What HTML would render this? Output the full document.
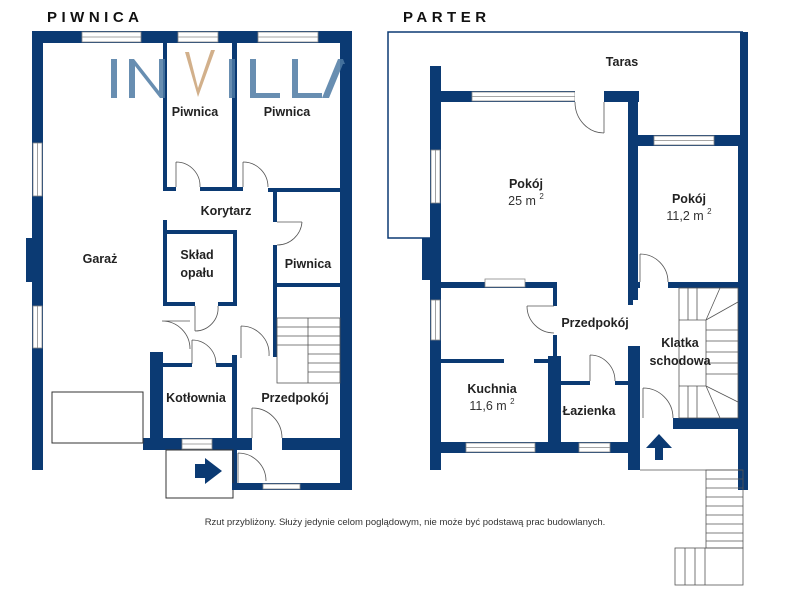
<!DOCTYPE html>
<html><head><meta charset="utf-8"><style>
html,body{margin:0;padding:0;background:#fff;width:800px;height:600px;overflow:hidden}
svg{display:block}
text{font-family:"Liberation Sans",sans-serif}
</style></head><body>
<svg width="800" height="600" viewBox="0 0 800 600" xmlns="http://www.w3.org/2000/svg">
<defs>
<style>.w{fill:#0b3a73}.lb{font-size:12.5px;font-weight:bold;fill:#222;text-anchor:middle}.win{fill:#fff;stroke:#888;stroke-width:0.8}.d{fill:none;stroke:#555;stroke-width:0.8}.wm{font-size:54px;fill:#4e7aa3;opacity:0.85}</style>
</defs>
<text x="47" y="22" style="font-size:15px;font-weight:bold;letter-spacing:4.5px;fill:#111">PIWNICA</text>
<text x="403" y="22" style="font-size:15px;font-weight:bold;letter-spacing:4.5px;fill:#111">PARTER</text>

<!-- ===== PIWNICA ===== -->
<rect class="w" x="32" y="31" width="320" height="12"/>
<rect class="win" x="82" y="32" width="59" height="10"/><line x1="82" y1="37" x2="141" y2="37" stroke="#888" stroke-width="0.8"/>
<rect class="win" x="178" y="32" width="40" height="10"/><line x1="178" y1="37" x2="218" y2="37" stroke="#888" stroke-width="0.8"/>
<rect class="win" x="258" y="32" width="60" height="10"/><line x1="258" y1="37" x2="318" y2="37" stroke="#888" stroke-width="0.8"/>
<rect class="w" x="32" y="31" width="11" height="439"/>
<rect class="win" x="33" y="143" width="9" height="53"/><line x1="37.5" y1="143" x2="37.5" y2="196" stroke="#888" stroke-width="0.8"/>
<rect class="win" x="33" y="306" width="9" height="42"/><line x1="37.5" y1="306" x2="37.5" y2="348" stroke="#888" stroke-width="0.8"/>
<rect class="w" x="26" y="238" width="7" height="44"/>
<rect class="w" x="340" y="31" width="12" height="459"/>
<rect class="w" x="163" y="43" width="4" height="147"/>
<rect class="w" x="232" y="43" width="5" height="147"/>
<rect class="w" x="163" y="187" width="13" height="4"/>
<rect class="w" x="200" y="187" width="43" height="4"/>
<rect class="w" x="268" y="188" width="72" height="4"/>
<path class="d" d="M176 162 v25 M176 162 a24 24 0 0 1 24 25"/>
<path class="d" d="M243 162 v25 M243 162 a25 25 0 0 1 25 25"/>
<rect class="w" x="273" y="188" width="4" height="34"/>
<path class="d" d="M277 222 h25 M302 222 a25 25 0 0 1 -25 23"/>
<rect class="w" x="273" y="245" width="4" height="112"/>
<rect class="w" x="277" y="283" width="63" height="4"/>
<rect class="w" x="163" y="220" width="4" height="85"/>
<rect class="w" x="163" y="230" width="74" height="4"/>
<rect class="w" x="233" y="230" width="4" height="75"/>
<rect class="w" x="163" y="302" width="32" height="4"/>
<rect class="w" x="218" y="302" width="19" height="4"/>
<path class="d" d="M195 306 v25 M195 331 a23 23 0 0 0 23 -25"/>
<path class="d" d="M162 321 h28 M162 321 a28 28 0 0 1 28 28"/>
<path class="d" d="M192 340 v24 M192 340 a24 24 0 0 1 24 24"/>
<path class="d" d="M241 326 v32 M241 326 a28 28 0 0 1 28 30"/>
<rect class="w" x="150" y="352" width="13" height="98"/>
<rect class="w" x="163" y="363" width="29" height="4"/>
<rect class="w" x="216" y="363" width="20" height="4"/>
<rect class="w" x="232" y="355" width="5" height="135"/>
<rect class="w" x="143" y="438" width="209" height="12"/>
<rect class="win" x="182" y="439" width="30" height="10"/><line x1="182" y1="444" x2="212" y2="444" stroke="#888" stroke-width="0.8"/>
<rect fill="#fff" x="252" y="438" width="30" height="12"/>
<path class="d" d="M252 408 v30 M252 408 a30 30 0 0 1 30 30"/>
<g stroke="#555" stroke-width="0.8" fill="none">
<rect x="277" y="318" width="63" height="65"/>
<line x1="308" y1="318" x2="308" y2="383"/>
<line x1="277" y1="327" x2="340" y2="327"/><line x1="277" y1="336" x2="340" y2="336"/><line x1="277" y1="345" x2="340" y2="345"/>
<line x1="308" y1="354" x2="340" y2="354"/><line x1="308" y1="363" x2="340" y2="363"/><line x1="308" y1="372" x2="340" y2="372"/>
</g>
<rect x="52" y="392" width="91" height="51" fill="none" stroke="#333" stroke-width="1"/>
<rect x="166" y="450" width="67" height="48" fill="none" stroke="#333" stroke-width="1"/>
<rect class="w" x="232" y="483" width="120" height="7"/>
<rect class="win" x="263" y="484" width="37" height="5"/>
<path class="d" d="M238 453 v30 M238 453 a28 28 0 0 1 28 28"/>
<path class="w" d="M195 464 h10 v-6 l17 13 l-17 13 v-6 h-10z"/>

<text class="lb" x="195" y="116">Piwnica</text>
<text class="lb" x="287" y="116">Piwnica</text>
<text class="lb" x="226" y="215">Korytarz</text>
<text class="lb" x="100" y="263">Garaż</text>
<text class="lb" x="197" y="259">Skład</text>
<text class="lb" x="197" y="277">opału</text>
<text class="lb" x="308" y="268">Piwnica</text>
<text class="lb" x="196" y="402">Kotłownia</text>
<text class="lb" x="295" y="402">Przedpokój</text>

<!-- watermark -->
<rect x="111" y="59" width="6" height="39" fill="#4e7aa3" opacity="0.85"/>
<path d="M129 98 V59 h5 l25 32 V59 h6 v39 h-5 l-25 -32 V98z" fill="#4e7aa3" opacity="0.85"/>
<path d="M185 52 l13 45 l17 -47 h-4 l-13 38 l-9 -36z" fill="#d2b08b"/>
<rect x="229" y="59" width="6" height="39" fill="#4e7aa3" opacity="0.85"/>
<path d="M250 59 h6 v34 h24 v5 h-30z" fill="#4e7aa3" opacity="0.85"/>
<path d="M292 59 h6 v34 h24 v5 h-30z" fill="#4e7aa3" opacity="0.85"/>
<path d="M322 98 l16 -39 h5 l2 5 l-2 0 l-14 34z" fill="#4e7aa3" opacity="0.85"/>

<!-- ===== PARTER ===== -->
<path d="M743 32 H388 V238 H430" fill="none" stroke="#0b3a73" stroke-width="1.5"/>
<rect class="w" x="740" y="32" width="8" height="458"/>
<rect class="w" x="430" y="66" width="11" height="404"/>
<rect class="win" x="431" y="150" width="9" height="53"/><line x1="435.5" y1="150" x2="435.5" y2="203" stroke="#888" stroke-width="0.8"/>
<rect class="win" x="431" y="300" width="9" height="40"/><line x1="435.5" y1="300" x2="435.5" y2="340" stroke="#888" stroke-width="0.8"/>
<rect class="w" x="422" y="238" width="9" height="42"/>
<rect class="w" x="430" y="91" width="209" height="11"/>
<rect class="win" x="472" y="92" width="103" height="9"/><line x1="472" y1="96.5" x2="575" y2="96.5" stroke="#888" stroke-width="0.8"/>
<rect fill="#fff" x="575" y="91" width="29" height="11"/>
<path class="d" d="M604 102 v31 M575 102 a29 31 0 0 0 29 31"/>
<rect class="w" x="628" y="91" width="10" height="209"/>
<rect class="w" x="628" y="135" width="120" height="11"/>
<rect class="win" x="654" y="136" width="60" height="9"/><line x1="654" y1="140.5" x2="714" y2="140.5" stroke="#888" stroke-width="0.8"/>
<rect class="w" x="738" y="135" width="10" height="355"/>
<rect class="w" x="628" y="282" width="12" height="6"/>
<rect class="w" x="668" y="282" width="70" height="6"/>
<path class="d" d="M640 254 v28 M640 254 a28 28 0 0 1 28 28"/>
<rect class="w" x="628" y="288" width="5" height="17"/>
<rect class="w" x="430" y="282" width="127" height="6"/>
<rect class="win" x="485" y="279" width="40" height="8"/>
<rect class="w" x="553" y="282" width="4" height="24"/>
<path class="d" d="M527 306 h27 M527 306 a27 27 0 0 0 27 27"/>
<rect class="w" x="553" y="335" width="4" height="25"/>
<rect class="w" x="441" y="359" width="63" height="4"/>
<rect class="w" x="534" y="359" width="23" height="4"/>
<rect class="w" x="548" y="356" width="13" height="96"/>
<rect class="w" x="561" y="381" width="29" height="4"/>
<rect class="w" x="615" y="381" width="13" height="4"/>
<path class="d" d="M590 355 v26 M590 355 a25 26 0 0 1 25 26"/>
<rect class="w" x="628" y="346" width="12" height="124"/>
<rect class="w" x="430" y="442" width="210" height="11"/>
<rect class="win" x="466" y="443" width="69" height="9"/><line x1="466" y1="447.5" x2="535" y2="447.5" stroke="#888" stroke-width="0.8"/>
<rect class="win" x="579" y="443" width="31" height="9"/><line x1="579" y1="447.5" x2="610" y2="447.5" stroke="#888" stroke-width="0.8"/>
<rect class="w" x="673" y="418" width="75" height="11"/>
<path class="d" d="M643 388 v30 M643 388 a30 30 0 0 1 30 30"/>
<path class="w" d="M655 460 h8 v-12 h9 l-13 -14 l-13 14 h9z"/>
<g stroke="#555" stroke-width="0.8" fill="none">
<rect x="679" y="288" width="59" height="130"/>
<line x1="706" y1="320" x2="706" y2="386"/>
<line x1="688" y1="288" x2="688" y2="320"/><line x1="697" y1="288" x2="697" y2="320"/><line x1="679" y1="320" x2="706" y2="320"/>
<line x1="706" y1="320" x2="720" y2="288"/><line x1="706" y1="320" x2="738" y2="302"/>
<line x1="706" y1="330" x2="738" y2="330"/><line x1="706" y1="341" x2="738" y2="341"/><line x1="706" y1="352" x2="738" y2="352"/><line x1="706" y1="363" x2="738" y2="363"/><line x1="706" y1="374" x2="738" y2="374"/>
<line x1="679" y1="386" x2="706" y2="386"/><line x1="688" y1="386" x2="688" y2="418"/><line x1="697" y1="386" x2="697" y2="418"/>
<line x1="706" y1="386" x2="738" y2="402"/><line x1="706" y1="386" x2="720" y2="418"/>
<line x1="640" y1="470" x2="743" y2="470"/>
<rect x="706" y="470" width="37" height="78"/>
<line x1="706" y1="479" x2="743" y2="479"/><line x1="706" y1="488" x2="743" y2="488"/><line x1="706" y1="497" x2="743" y2="497"/><line x1="706" y1="506" x2="743" y2="506"/><line x1="706" y1="515" x2="743" y2="515"/><line x1="706" y1="524" x2="743" y2="524"/><line x1="706" y1="533" x2="743" y2="533"/><line x1="706" y1="541" x2="743" y2="541"/>
<rect x="675" y="548" width="68" height="37"/>
<line x1="685" y1="548" x2="685" y2="585"/><line x1="695" y1="548" x2="695" y2="585"/><line x1="705" y1="548" x2="705" y2="585"/>
</g>
<text class="lb" x="622" y="66">Taras</text>
<text class="lb" x="526" y="188">Pokój</text>
<text x="526" y="205" style="font-size:12.5px;fill:#333;text-anchor:middle">25 m <tspan dy="-6" font-size="8">2</tspan></text>
<text class="lb" x="689" y="203">Pokój</text>
<text x="689" y="220" style="font-size:12.5px;fill:#333;text-anchor:middle">11,2 m <tspan dy="-6" font-size="8">2</tspan></text>
<text class="lb" x="595" y="327">Przedpokój</text>
<text class="lb" x="680" y="347">Klatka</text>
<text class="lb" x="680" y="365">schodowa</text>
<text class="lb" x="492" y="393">Kuchnia</text>
<text x="492" y="410" style="font-size:12.5px;fill:#333;text-anchor:middle">11,6 m <tspan dy="-6" font-size="8">2</tspan></text>
<text class="lb" x="589" y="415">Łazienka</text>

<text x="405" y="525" style="font-size:9.5px;fill:#333;text-anchor:middle">Rzut przybliżony. Służy jedynie celom poglądowym, nie może być podstawą prac budowlanych.</text>
</svg>
</body></html>
